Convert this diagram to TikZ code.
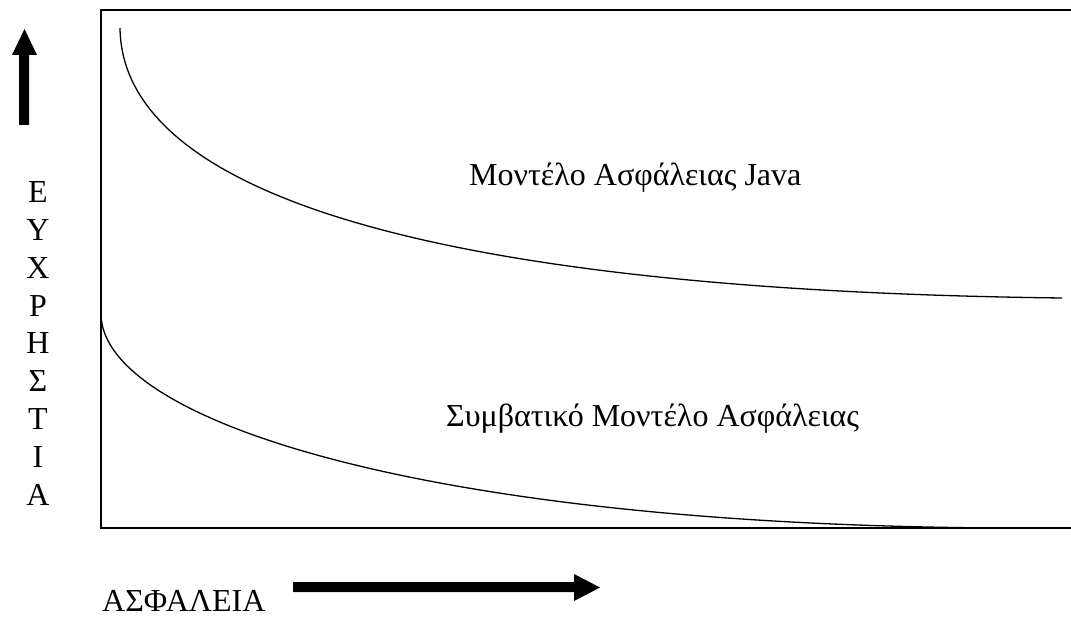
\documentclass[tikz,border=0pt]{standalone}
\usepackage{fontspec}
\setmainfont{Liberation Serif}
\begin{document}
\begin{tikzpicture}[x=1pt,y=-1pt,
  lbl/.style={inner sep=0pt,anchor=base west,font=\fontsize{32}{36}\selectfont},
  vlbl/.style={inner sep=0pt,anchor=base,font=\fontsize{32}{36}\selectfont},
  frame/.style={line width=2pt},
  curve/.style={line width=1.3pt},
  bigarrow/.style={fill=black,draw=none}]
\useasboundingbox (0,0) rectangle (1071,617);
% frame (right side lies outside the picture)
\draw[frame] (1075,10) -- (101,10) -- (101,528) -- (1075,528);
% curves
\draw[curve] (120,28) .. controls (122,185) and (400,290) .. (1062,298);
\draw[curve] (101,315) .. controls (104,420) and (420,525) .. (1003,528);
% labels
\node[lbl] (java) at (469,186) {Μοντέλο Ασφάλειας Java};
\node[lbl] (conv) at (446,427) {Συμβατικό Μοντέλο Ασφάλειας};
\node[lbl] (xlab) at (102,611) {ΑΣΦΑΛΕΙΑ};
\foreach \c [count=\i from 0] in {Ε,Υ,Χ,Ρ,Η,Σ,Τ,Ι,Α}
  \node[vlbl] (y\i) at (38,203+37.75*\i) {\c};
% arrows
\fill[bigarrow] (19,125) -- (19,55) -- (12,55) -- (24.5,29) -- (37,55) -- (29,55) -- (29,125) -- cycle;
\fill[bigarrow] (293,582) -- (574,582) -- (574,574) -- (600,587.5) -- (574,601) -- (574,592) -- (293,592) -- cycle;
\end{tikzpicture}
\end{document}
